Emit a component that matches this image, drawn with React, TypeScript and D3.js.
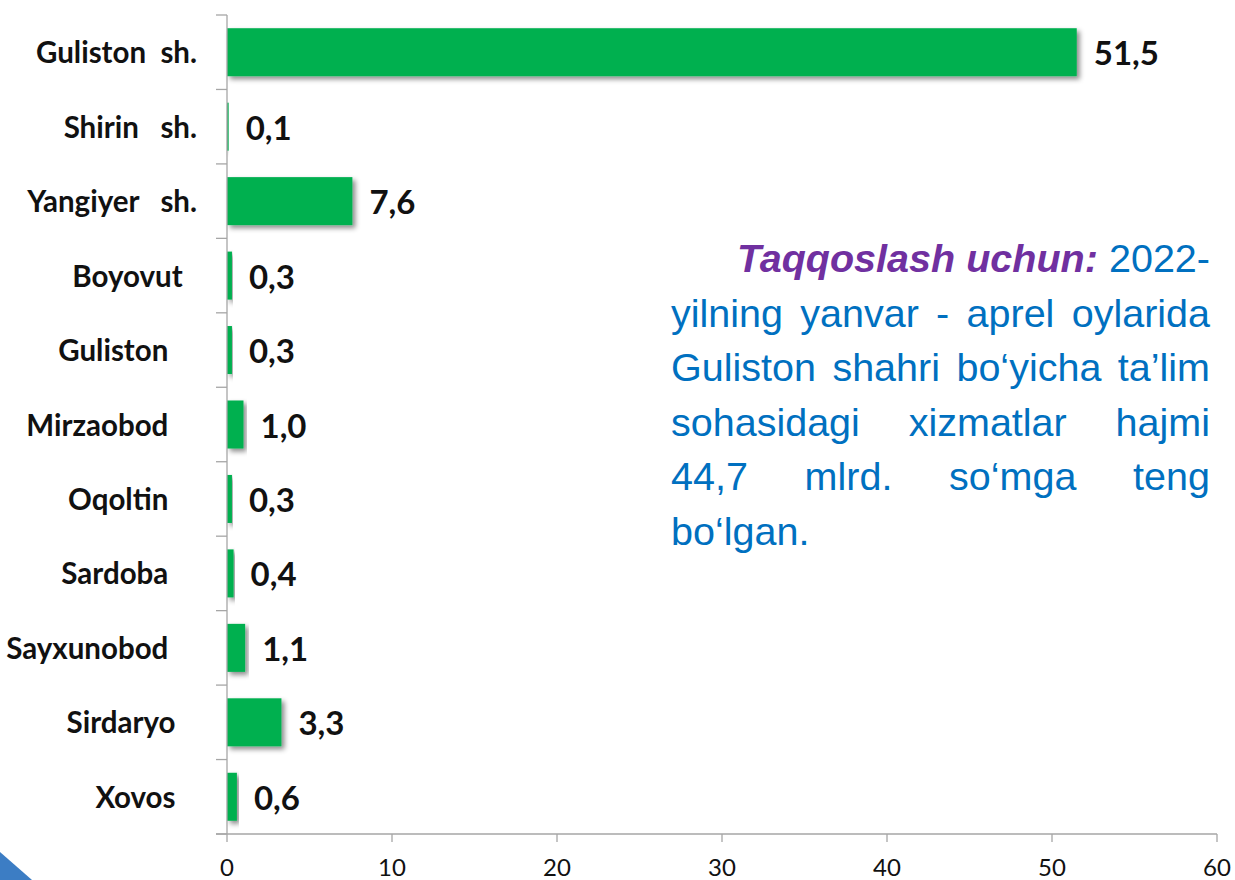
import React from 'react';
import * as d3 from 'd3';

// kategoriyalar (oxiridagi bo'shliqlar asl slayddagidek)
const categories = [
  'Guliston  sh.',
  'Shirin   sh.',
  'Yangiyer   sh.',
  'Boyovut  ',
  'Guliston    ',
  'Mirzaobod    ',
  'Oqoltin    ',
  'Sardoba    ',
  'Sayxunobod    ',
  'Sirdaryo   ',
  'Xovos   ',
];
const values = [51.5, 0.1, 7.6, 0.3, 0.3, 1.0, 0.3, 0.4, 1.1, 3.3, 0.6];
const xTicks = [0, 10, 20, 30, 40, 50, 60];

// izoh matni: har bir qator so'zlari
const noteLines: { text: string; accent?: boolean }[][] = [
  [{ text: 'Taqqoslash', accent: true }, { text: 'uchun:', accent: true }, { text: '2022-' }],
  [{ text: 'yilning' }, { text: 'yanvar' }, { text: '-' }, { text: 'aprel' }, { text: 'oylarida' }],
  [{ text: 'Guliston' }, { text: 'shahri' }, { text: 'bo‘yicha' }, { text: 'ta’lim' }],
  [{ text: 'sohasidagi' }, { text: 'xizmatlar' }, { text: 'hajmi' }],
  [{ text: '44,7' }, { text: 'mlrd.' }, { text: 'so‘mga' }, { text: 'teng' }],
  [{ text: 'bo‘lgan.' }],
];

const W = 1235;
const H = 880;
const plot = { left: 227, right: 1217, top: 15, bottom: 834 };

const GREEN = '#00B050';
const AXIS = '#A6A6A6';
const BLUE = '#0070C0';
const PURPLE = '#7030A0';

const NOTE_FONT = '"Liberation Sans", Arial, sans-serif';
const NOTE_SIZE = 39.5;

let ctx: CanvasRenderingContext2D | null = null;
const measure = (s: string, font: string) => {
  if (!ctx) ctx = document.createElement('canvas').getContext('2d');
  if (!ctx) return s.length * NOTE_SIZE * 0.5;
  ctx.font = font;
  return ctx.measureText(s).width;
};

const fmt = (v: number) => d3.format('.1f')(v).replace('.', ',');

const Note: React.FC = () => {
  const left = 671;
  const right = 1210;
  const indent = 737;
  const base = 272;
  const step = 54.6;
  const fontOf = (accent?: boolean) =>
    `${accent ? 'italic bold ' : ''}${NOTE_SIZE}px ${NOTE_FONT}`;

  return (
    <g>
      {noteLines.map((words, li) => {
        const x0 = li === 0 ? indent : left;
        const widths = words.map(w => measure(w.text, fontOf(w.accent)));
        const total = d3.sum(widths);
        const last = li === noteLines.length - 1;
        const gap = last || words.length < 2
          ? measure(' ', fontOf())
          : (right - x0 - total) / (words.length - 1);
        let x = x0;
        return words.map((w, wi) => {
          const el = (
            <text
              key={`${li}-${wi}`}
              x={x}
              y={base + li * step}
              fontFamily={NOTE_FONT}
              fontSize={NOTE_SIZE}
              fontWeight={w.accent ? 'bold' : 'normal'}
              fontStyle={w.accent ? 'italic' : 'normal'}
              fill={w.accent ? PURPLE : BLUE}
            >
              {w.text}
            </text>
          );
          x += widths[wi] + gap;
          return el;
        });
      })}
    </g>
  );
};

export default function App() {
  const x = d3.scaleLinear().domain([0, 60]).range([plot.left, plot.right]);
  const y = d3
    .scaleBand<string>()
    .domain(categories)
    .range([plot.top, plot.bottom])
    .paddingInner(0.355)
    .paddingOuter(0.1775);
  const stepY = y.step();
  const boundaries = d3.range(categories.length + 1).map(i => plot.top + i * stepY);

  return (
    <svg
      width={W}
      height={H}
      viewBox={`0 0 ${W} ${H}`}
      style={{ position: 'absolute', left: 0, top: 0, background: '#fff' }}
    >
      <defs>
        <filter id="shadow" x="-10%" y="-20%" width="130%" height="160%">
          <feDropShadow dx="3" dy="3" stdDeviation="2.5" floodColor="#000" floodOpacity="0.45" />
        </filter>
      </defs>

      {/* burchakdagi ko'k uchburchak */}
      <path d={`M0,852 L32,${H} L0,${H} Z`} fill="#3C7DC4" />

      {/* ustunlar */}
      {categories.map((c, i) => (
        <rect
          key={c + i}
          x={x(0)}
          y={y(c)}
          width={x(values[i]) - x(0)}
          height={y.bandwidth()}
          fill={GREEN}
          filter="url(#shadow)"
        />
      ))}

      {/* o'qlar */}
      <line x1={plot.left} x2={plot.left} y1={plot.top} y2={plot.bottom} stroke={AXIS} strokeWidth={1.3} />
      {boundaries.map((b, i) => (
        <line key={i} x1={plot.left - 11} x2={plot.left} y1={b} y2={b} stroke={AXIS} strokeWidth={1.3} />
      ))}
      <line x1={plot.left - 11} x2={plot.right} y1={plot.bottom} y2={plot.bottom} stroke={AXIS} strokeWidth={1.3} />
      {xTicks.map(t => (
        <g key={t}>
          <line x1={x(t)} x2={x(t)} y1={plot.bottom} y2={plot.bottom + 8} stroke={AXIS} strokeWidth={1.3} />
          <text
            x={x(t)}
            y={plot.bottom + 42}
            textAnchor="middle"
            fontFamily="Lato, sans-serif"
            fontSize={24}
            fill="#111"
          >
            {t}
          </text>
        </g>
      ))}

      {/* kategoriya nomlari */}
      {categories.map((c, i) => (
        <text
          key={'l' + i}
          x={197}
          y={(y(c) ?? 0) + y.bandwidth() / 2 + 11}
          textAnchor="end"
          fontFamily="Lato, 'Open Sans', sans-serif"
          fontWeight="bold"
          fontSize={29.5}
          fill="#111"
          style={{ whiteSpace: 'pre' }}
          xmlSpace="preserve"
        >
          {c}
        </text>
      ))}

      {/* qiymatlar */}
      {categories.map((c, i) => (
        <text
          key={'v' + i}
          x={x(values[i]) + 17}
          y={(y(c) ?? 0) + y.bandwidth() / 2 + 13}
          fontFamily="Lato, 'Open Sans', sans-serif"
          fontWeight="bold"
          fontSize={33}
          fill="#111"
        >
          {fmt(values[i])}
        </text>
      ))}

      <Note />
    </svg>
  );
}
